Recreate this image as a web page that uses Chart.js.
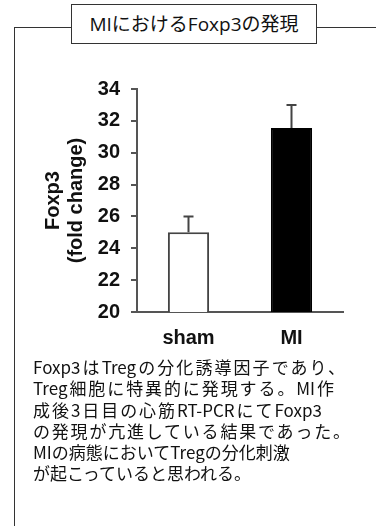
<!DOCTYPE html>
<html>
<head>
<meta charset="utf-8">
<script src="https://cdn.jsdelivr.net/npm/chart.js@4"></script>
<style>
  body { margin: 0; background: #fff; width: 376px; height: 526px; overflow: hidden; position: relative; font-family: "Open Sans", "Noto Sans CJK JP", sans-serif; color: #111; }
  .frame-left { position: absolute; left: 14px; top: 27px; width: 1px; height: 499px; background: #333; }
  .frame-top1 { position: absolute; left: 14px; top: 27px; width: 58px; height: 1px; background: #333; }
  .frame-top2 { position: absolute; left: 316px; top: 27px; width: 60px; height: 1px; background: #333; }
  .title-box { position: absolute; left: 71px; top: 4px; width: 244px; height: 38px; border: 1px solid #333; background: #fff;
               font-size: 19px; line-height: 38px; text-align: center; }
  #chartWrap { position: absolute; left: 0; top: 60px; }
  .note { position: absolute; left: 33px; top: 356px; font-family: "Noto Sans CJK JP", sans-serif; font-size: 17px;
          line-height: 21.3px; white-space: nowrap; }
  .note div { text-align: justify; text-align-last: justify; }
</style>
</head>
<body>
<div class="frame-left"></div>
<div class="frame-top1"></div>
<div class="frame-top2"></div>
<div class="title-box">MIにおけるFoxp3の発現</div>
<div id="chartWrap"><canvas id="foxChart" width="376" height="300"></canvas></div>
<div class="note">
  <div style="width:312px">Foxp3はTregの分化誘導因子であり、</div>
  <div style="width:301px">Treg細胞に特異的に発現する。MI作</div>
  <div style="width:289px">成後3日目の心筋RT-PCRにてFoxp3</div>
  <div style="width:317px">の発現が亢進している結果であった。</div>
  <div style="text-align:left;text-align-last:left">MIの病態においてTregの分化刺激</div>
  <div style="text-align:left;text-align-last:left">が起こっていると思われる。</div>
</div>
<script>
const groups = ['sham', 'MI'];
const foxp3Values = [25.0, 31.55];
const foxp3Errors = [1.0, 1.45];
const barFill = ['#ffffff', '#000000'];
const yTicks = [20, 22, 24, 26, 28, 30, 32, 34];

// draw the upper error bar with a small cap
const errorBars = {
  id: 'errorBars',
  afterDatasetsDraw(chart) {
    const ctx = chart.ctx;
    const meta = chart.getDatasetMeta(0);
    const yScale = chart.scales.y;
    ctx.save();
    ctx.strokeStyle = '#444';
    ctx.lineWidth = 2;
    meta.data.forEach((bar, i) => {
      const x = bar.x;
      const yTop = yScale.getPixelForValue(foxp3Values[i]);
      const yErr = yScale.getPixelForValue(foxp3Values[i] + foxp3Errors[i]);
      ctx.beginPath();
      ctx.moveTo(x, yTop);
      ctx.lineTo(x, yErr);
      ctx.moveTo(x - 5, yErr);
      ctx.lineTo(x + 5, yErr);
      ctx.stroke();
    });
    ctx.restore();
  }
};

const ctx = document.getElementById('foxChart').getContext('2d');
const foxChart = new Chart(ctx, {
  type: 'bar',
  data: {
    labels: groups,
    datasets: [{
      data: foxp3Values,
      backgroundColor: barFill,
      borderColor: ['#444', '#000'],
      borderWidth: 2,
      borderSkipped: 'bottom',
      barPercentage: 0.8,
      categoryPercentage: 0.5
    }]
  },
  options: {
    responsive: false,
    animation: false,
    layout: { padding: { left: 42, right: 33, top: 29, bottom: 0 } },
    plugins: { legend: { display: false }, tooltip: { enabled: false } },
    scales: {
      x: {
        grid: { display: false },
        border: { display: true, color: '#555', width: 2 },
        ticks: { color: '#111', padding: 6, font: { family: 'Liberation Sans', size: 20, weight: 'bold' } },
        afterFit: function(scale) { scale.height = 48; }
      },
      y: {
        min: 20,
        max: 34,
        afterBuildTicks: function(scale) { scale.ticks = yTicks.map(v => ({ value: v })); },
        grid: { drawOnChartArea: false, drawTicks: true, tickLength: 6, color: '#555', lineWidth: 2 },
        border: { display: true, color: '#555', width: 2 },
        ticks: { color: '#111', padding: 11, font: { family: 'Liberation Sans', size: 20, weight: 'bold' } },
        title: {
          display: true,
          text: ['Foxp3', '(fold change)'],
          color: '#111',
          font: { family: 'Liberation Sans', size: 20, weight: 'bold', lineHeight: 1.15 },
          padding: 0
        },
        afterFit: function(scale) { scale.width = 95; }
      }
    }
  },
  plugins: [errorBars]
});
</script>
</body>
</html>
